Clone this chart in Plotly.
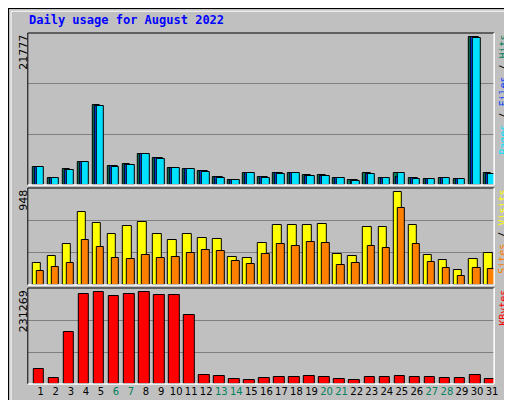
import plotly.graph_objects as go

days = list(range(1, 32))
weekend = [6, 7, 13, 14, 20, 21, 27, 28]

hits = [2710, 1080, 2320, 3450, 11730, 2860, 3060, 4530, 4040, 2560, 2320, 2120, 1230, 790, 1720, 1230,
        1820, 1720, 1430, 1430, 1080, 790, 1720, 1080, 1820, 1080, 940, 1080, 940, 21777, 1720]
files = [2660, 1060, 2280, 3420, 11600, 2820, 3020, 4500, 3980, 2530, 2290, 2080, 1180, 760, 1700, 1180,
         1790, 1700, 1400, 1400, 1050, 760, 1690, 1060, 1180, 1050, 920, 1050, 920, 21777, 1690]
pages = [2660, 1060, 2150, 3420, 11580, 2700, 3020, 4500, 3880, 2530, 2290, 1940, 1080, 760, 1700, 1080,
         1640, 1700, 1400, 1400, 1050, 650, 1690, 1060, 1790, 920, 920, 1050, 920, 21610, 1690]
visits = [228, 300, 413, 740, 628, 515, 597, 638, 515, 454, 515, 484, 474, 290, 280, 433,
          607, 607, 607, 617, 321, 300, 587, 587, 948, 607, 310, 259, 157, 269, 331]
sites = [147, 188, 228, 454, 392, 280, 269, 310, 280, 290, 331, 361, 351, 249, 218, 321,
         413, 402, 443, 433, 208, 228, 402, 382, 781, 413, 239, 177, 95, 177, 167]
kbytes = [38800, 16000, 130000, 226200, 231269, 221100, 226200, 231269, 223700, 223700, 173000,
          23600, 21100, 13500, 11000, 16000, 18600, 18600, 21100, 18600, 13500, 11000, 18600,
          18600, 21100, 18600, 18600, 16000, 16000, 23600, 13500]

C_HITS, C_FILES, C_PAGES = "#00805C", "#0040FF", "#00E0FF"
C_SITES, C_VISITS, C_KB = "#FF8000", "#FFFF00", "#FF0000"
BG = "#C0C0C0"

fig = go.Figure()


def bars(y, color, off, w, ax):
    fig.add_trace(go.Bar(x=days, y=y, offset=off, width=w, marker=dict(color=color, line=dict(color="black", width=1)),
                         xaxis="x" + ax, yaxis="y" + ax, showlegend=False, hoverinfo="y"))


bars(hits, C_HITS, -0.56, 0.51, "")
bars(files, C_FILES, -0.42, 0.51, "")
bars(pages, C_PAGES, -0.29, 0.51, "")
bars(visits, C_VISITS, -0.56, 0.58, "2")
bars(sites, C_SITES, -0.29, 0.51, "2")
bars(kbytes, C_KB, -0.49, 0.71, "3")

xr = [0.14, 31.14]
xd = [0.039, 0.957]
ticktext = [f"<span style='color:{C_HITS}'>{d}</span>" if d in weekend else str(d) for d in days]
common_x = dict(range=xr, domain=xd, showgrid=False, zeroline=False, fixedrange=True)
panels = [("", [0.5575, 0.9375], 22417), ("2", [0.3075, 0.55], 989), ("3", [0.06, 0.3], 242000)]

layout = dict(
    width=512, height=400, margin=dict(l=0, r=0, t=0, b=0),
    paper_bgcolor=BG, plot_bgcolor=BG, barmode="overlay", bargap=0,
    font=dict(family="DejaVu Sans", size=11, color="black"),
)
shapes = []
for ax, dom, top in panels:
    xa = dict(common_x, anchor="y" + ax)
    if ax == "3":
        xa.update(tickvals=days, ticktext=ticktext, ticks="", showticklabels=True, tickangle=0,
                  tickfont=dict(family="DejaVu Sans", size=10))
    else:
        xa.update(showticklabels=False)
    layout["xaxis" + ax] = xa
    layout["yaxis" + ax] = dict(domain=dom, range=[0, top], anchor="x" + ax, showticklabels=False,
                                tickvals=[top / 3, 2 * top / 3], gridcolor="#808080", gridwidth=1,
                                zeroline=False, fixedrange=True)
    # panel frame: dark top/left, white bottom/right
    shapes.append(dict(type="line", xref="paper", yref="paper", x0=xd[0], x1=xd[1], y0=dom[1], y1=dom[1],
                       line=dict(color="black", width=1)))
    shapes.append(dict(type="line", xref="paper", yref="paper", x0=xd[0], x1=xd[0], y0=dom[0], y1=dom[1],
                       line=dict(color="black", width=1)))
    shapes.append(dict(type="line", xref="paper", yref="paper", x0=xd[1], x1=xd[1], y0=dom[0], y1=dom[1],
                       line=dict(color="white", width=1.5)))
    shapes.append(dict(type="line", xref="paper", yref="paper", x0=xd[0], x1=xd[1], y0=dom[0], y1=dom[0],
                       line=dict(color="white", width=1.5)))

# outer border
shapes.append(dict(type="rect", xref="paper", yref="paper", x0=0, x1=1, y0=0, y1=1,
                   line=dict(color="black", width=2)))
shapes.append(dict(type="rect", xref="paper", yref="paper", x0=0.006, x1=0.992, y0=0.01, y1=0.992,
                   line=dict(color="white", width=1)))
layout["shapes"] = shapes

mono = "DejaVu Sans Mono"
ann = [dict(text="<b>Daily usage for August 2022</b>", xref="paper", yref="paper", x=19 / 512, y=1 - 12 / 400,
            showarrow=False, xanchor="left", yanchor="middle", font=dict(family=mono, size=12, color="#0000FF"))]
for txt, y in [("21777", 0.9375), ("948", 0.55), ("231269", 0.3)]:
    ann.append(dict(text=txt, xref="paper", yref="paper", x=0.030, y=y, textangle=-90, showarrow=False,
                    xanchor="center", yanchor="top", font=dict(family="DejaVu Sans", size=11)))
right = [(f"<span style='color:{C_PAGES}'>Pages</span> / <span style='color:{C_FILES}'>Files</span> / "
          f"<span style='color:{C_HITS}'>Hits</span>", 0.9375),
         (f"<span style='color:{C_SITES}'>Sites</span> / <span style='color:{C_VISITS}'>Visits</span>", 0.55),
         (f"<span style='color:{C_KB}'>KBytes</span>", 0.3)]
for txt, y in right:
    ann.append(dict(text=txt, xref="paper", yref="paper", x=0.974, y=y, textangle=-90, showarrow=False,
                    xanchor="center", yanchor="top", font=dict(family=mono, size=10, color="black")))
layout["annotations"] = ann

fig.update_layout(**layout)
fig.write_html("out.html")
